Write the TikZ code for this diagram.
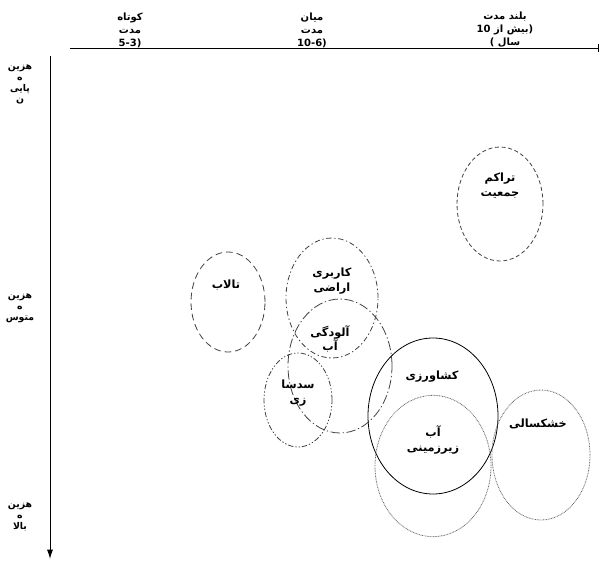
\documentclass[tikz,border=0pt]{standalone}
\usepackage{fontspec}
\usetikzlibrary{shapes.geometric,arrows.meta}
\newfontfamily\fa[Script=Arabic]{DejaVu Sans Bold}
\newfontfamily\la{DejaVu Sans Bold}
\TeXXeTstate=1
\begin{document}
\begin{tikzpicture}[x=0.75pt,y=-0.75pt,
  ell/.style={shape=ellipse,inner sep=0pt,line width=0.6pt},
  lab/.style={font=\fa\fontsize{8.5}{11}\selectfont,inner sep=0pt,align=center},
  hdr/.style={font=\fa\fontsize{7.5}{9.75}\selectfont,inner sep=0pt,align=center},
  side/.style={font=\fa\fontsize{7}{8.25}\selectfont,inner sep=0pt,align=center},
  ax/.style={line width=0.7pt,black}]
\useasboundingbox (0,0) rectangle (604,561);
% axes
\coordinate (hx0) at (70,48);
\coordinate (hx1) at (598,48);
\coordinate (tk0) at (598,44);
\coordinate (tk1) at (598,52);
\coordinate (vy0) at (50,56);
\coordinate (vy1) at (50,559);
\draw[ax] (hx0) -- (hx1);
\draw[ax] (tk0) -- (tk1);
\draw[ax,-{Latex[length=7pt,width=4.5pt]}] (vy0) -- (vy1);
% headers
\node[hdr] (h1) at (130,30) {\beginR کوتاه\endR\\ \beginR مدت\endR\\ {\la 5-3)}};
\node[hdr] (h2) at (312,30) {\beginR میان\endR\\ \beginR مدت\endR\\ {\la 10-6)}};
\node[hdr] (h3) at (505,30) {\beginR بلند مدت\endR\\ \beginR (بیش از \beginL 10\endL\endR\\ \beginR سال )\endR};
% side labels
\node[side] (s1) at (20,84) {\beginR هزین\endR\\ \beginR ه\endR\\ \beginR پایی\endR\\ \beginR ن\endR};
\node[side] (s2) at (20,308) {\beginR هزین\endR\\ \beginR ه\endR\\ \beginR متوس\endR};
\node[side] (s3) at (20,517) {\beginR هزین\endR\\ \beginR ه\endR\\ \beginR بالا\endR};
% ellipses
\node[ell,draw=black!75,dash pattern=on 3pt off 2pt,minimum width=64.5pt,minimum height=85.5pt] (e1) at (500,204) {};
\node[ell,draw=black!75,dash pattern=on 5pt off 3pt,minimum width=55.5pt,minimum height=75pt] (e2) at (228,302) {};
\node[ell,draw=black!75,dash pattern=on 4pt off 2pt on 1pt off 2pt,minimum width=69pt,minimum height=90pt] (e3) at (332,298) {};
\node[ell,draw=black!75,dash pattern=on 7pt off 2pt on 1pt off 2pt,minimum width=78pt,minimum height=100.5pt] (e4) at (340,366) {};
\node[ell,draw=black!75,dash pattern=on 4pt off 1.5pt on 1pt off 1.5pt on 1pt off 1.5pt,minimum width=51pt,minimum height=70.5pt] (e5) at (298,400) {};
\node[ell,draw=black,minimum width=97.5pt,minimum height=117pt] (e6) at (433,416) {};
\node[ell,draw=black!60,dash pattern=on 0.6pt off 0.6pt,minimum width=87pt,minimum height=106pt] (e7) at (433,466) {};
\node[ell,draw=black!60,dash pattern=on 0.6pt off 0.6pt,minimum width=73.5pt,minimum height=97.5pt] (e8) at (541,455) {};
% labels
\node[lab] (l1) at (500,186) {\beginR تراکم\endR\\ \beginR جمعیت\endR};
\node[lab] (l2) at (226,285) {\beginR تالاب\endR};
\node[lab] (l3) at (332,281) {\beginR کاربری\endR\\ \beginR اراضی\endR};
\node[lab] (l4) at (330,339) {\beginR آلودگی\endR\\ \beginR آب\endR};
\node[lab] (l5) at (298,393) {\beginR سدسا\endR\\ \beginR زی\endR};
\node[lab] (l6) at (432,377) {\beginR کشاورزی\endR};
\node[lab] (l7) at (433,440) {\beginR آب\endR\\ \beginR زیرزمینی\endR};
\node[lab] (l8) at (538,424) {\beginR خشکسالی\endR};
\end{tikzpicture}
\end{document}
